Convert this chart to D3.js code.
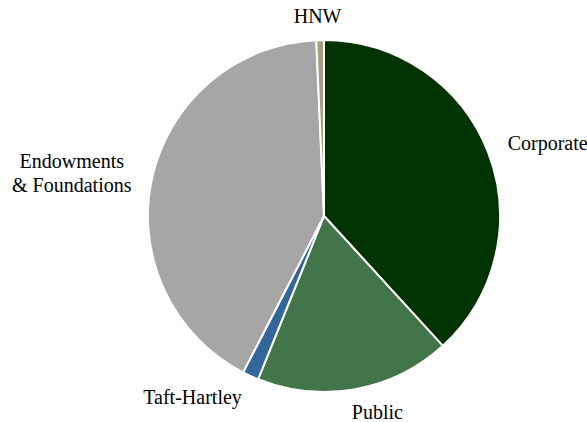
<!DOCTYPE html>
<html lang="en">
<head>
    <meta charset="UTF-8">
    <title>Pie</title>
    <style>
        body { margin: 0; background-color: white; }
        svg { display: block; }
        text { font-family: "Liberation Serif", "Times New Roman", Times, serif; font-size: 20px; fill: #000; }
    </style>
</head>
<body>
    <script src="https://d3js.org/d3.v7.min.js"></script>
    <script>
        {
            let labels = ['Corporate', 'Public', 'Taft-Hartley', 'Endowments\n& Foundations', 'HNW'];
            let values = [38.2, 17.9, 1.5, 41.7, 0.7];
            let colors = ['#003300', '#43754a', '#336699', '#a6a6a6', '#a39f7f'];

            let width = 587, height = 422;
            let cx = 324, cy = 216, radius = 176, labelRadius = 197;

            let svg = d3.select('body')
                .append('svg')
                .attr('width', width)
                .attr('height', height);

            let pie = d3.pie().sort(null).value(d => d);
            let arcs = pie(values);

            let arc = d3.arc().innerRadius(0).outerRadius(radius);

            let group = svg.append('g')
                .attr('transform', `translate(${cx},${cy})`);

            group.selectAll('path')
                .data(arcs)
                .enter()
                .append('path')
                .attr('d', arc)
                .attr('fill', (d, i) => colors[i])
                .attr('stroke', 'white')
                .attr('stroke-width', 2)
                .attr('stroke-linejoin', 'round');

            // labels outside the pie, pushed away from the slice by their own width
            arcs.forEach((d, i) => {
                let mid = (d.startAngle + d.endAngle) / 2;
                let s = Math.sin(mid), c = -Math.cos(mid);
                let x = s * labelRadius, y = c * (labelRadius + 3);
                let lines = labels[i].split('\n');
                let lh = 24;
                let t = group.append('text')
                    .attr('text-anchor', 'middle');
                lines.forEach((ln, j) => {
                    t.append('tspan').attr('x', 0)
                        .attr('y', (j - (lines.length - 1) / 2) * lh)
                        .attr('dy', '0.33em')
                        .text(ln);
                });
                let w = t.node().getBBox().width;
                let f = Math.max(-0.5, Math.min(0.5, 2 * s));
                t.attr('transform', `translate(${x + f * w},${y})`);
            });
        }
    </script>
</body>
</html>
